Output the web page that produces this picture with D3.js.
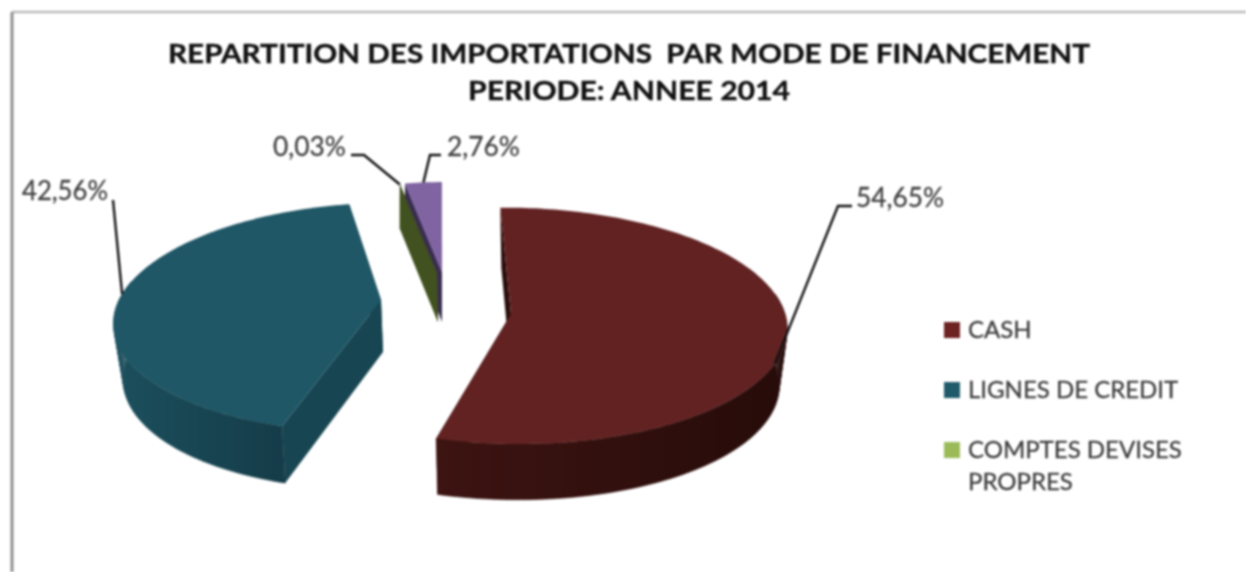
<!DOCTYPE html>
<html>
<head>
<meta charset="utf-8">
<script src="https://cdn.jsdelivr.net/npm/d3@7"></script>
<style>
  html, body { margin: 0; background: #fff; overflow: hidden; }
  svg { display: block; filter: blur(0.8px); }
  text { font-family: Lato, "Open Sans", sans-serif; white-space: pre; }
</style>
</head>
<body>
<div id="chart"></div>
<script>
//Data. The 4th slice has no entry in the legend
var categories = ["CASH", "LIGNES DE CREDIT", "COMPTES DEVISES PROPRES", ""];
var shares = [54.65, 42.56, 0.03, 2.76];
var labels = ["54,65%", "42,56%", "0,03%", "2,76%"];
var titleLines = ["REPARTITION DES IMPORTATIONS  PAR MODE DE FINANCEMENT", "PERIODE: ANNEE 2014"];
var legendLines = [["CASH"], ["LIGNES DE CREDIT"], ["COMPTES DEVISES", "PROPRES"]];

var width = 1246, height = 572;

//Colors
var topColor = d3.scaleOrdinal().domain(categories).range(["#622222", "#1f5766", "#41511f", "#8064a2"]);
var wallColor = d3.scaleOrdinal().domain(categories).range(["#2a0d0b", "#184552", "#41511f", "#3a2c52"]);
var rimLeft = d3.scaleOrdinal().domain(categories).range(["#3d1412", "#1c4f5d", "#000", "#000"]);
var rimRight = d3.scaleOrdinal().domain(categories).range(["#260c0a", "#153c48", "#000", "#000"]);
var legendColor = d3.scaleOrdinal().domain(categories).range(["#6e2323", "#1f5a6b", "#9bbb59", "#8064a2"]);

//Each exploded slice has its own top and bottom projection of the unit circle
var faces = [
  {top: {cx: 511, cy: 314, rx: 274, ry: 117, p: 0.10, sh: -7}, bot: {cx: 511, cy: 372, rx: 266, ry: 115, p: 0.10, sh: -6}},
  {top: {cx: 381, cy: 300, rx: 262, ry: 112, p: 0.15, sh: 14}, bot: {cx: 383, cy: 352, rx: 252, ry: 110, p: 0.20, sh: 11}},
  {top: {cx: 437, cy: 273, rx: 214, ry: 99, p: 0.10, sh: 0}, bot: {cx: 438, cy: 322, rx: 220, ry: 105, p: 0.10, sh: 0}},
  {top: {cx: 442, cy: 272, rx: 235, ry: 99, p: 0.10, sh: 4}, bot: {cx: 442, cy: 322, rx: 235, ry: 105, p: 0.10, sh: 4}}
];
//Leader lines: angle on the rim (null is the middle of the slice), then the elbows
var leaders = [
  {deg: 114, pts: [[838, 206], [852, 206]], lx: 856, ly: 207, tl: 88},
  {deg: 273, pts: [[113, 200]], lx: 22, ly: 200, tl: 86},
  {deg: null, pts: [[364, 155], [351, 155]], lx: 273, ly: 156, tl: 73},
  {deg: null, pts: [[430, 155], [441, 155]], lx: 447, ly: 156, tl: 73}
];
var legendY = [338, 398, 458];

function project(f, a) {
  var X = Math.sin(a), Y = Math.cos(a), w = 1 + f.p * Y;
  return [f.cx + f.rx * X / w + f.sh * Y / w, f.cy - f.ry * Y / w];
}
function arcPoints(f, a0, a1) {
  var n = Math.max(1, Math.ceil((a1 - a0) / 0.02)), out = [];
  for (var i = 0; i <= n; i++) out.push(project(f, a0 + (a1 - a0) * i / n));
  return out;
}

var rot = -1 * Math.PI / 180;
var pie = d3.pie().sort(null).startAngle(rot).endAngle(rot + 2 * Math.PI);
var slices = pie(shares);
var line = d3.line();

var svg = d3.select("#chart").append("svg").attr("width", width).attr("height", height);
var defs = svg.append("defs");

//Frame, the left side is darker than the top
svg.append("rect").attr("width", width).attr("height", height).attr("fill", "#fff");
svg.append("path").attr("d", "M1246,12H12").attr("fill", "none").attr("stroke", "#bbb").attr("stroke-width", 2.5);
svg.append("path").attr("d", "M12,12V580").attr("fill", "none").attr("stroke", "#8f8f8f").attr("stroke-width", 3);

//Title
svg.append("g").selectAll("text").data(titleLines).enter().append("text")
    .attr("x", 629).attr("y", function(d, i) { return 63 + i * 37; })
    .attr("text-anchor", "middle")
    .attr("textLength", function(d, i) { return i ? 322 : 922; })
    .attr("lengthAdjust", "spacingAndGlyphs")
    .attr("font-size", 27).attr("font-weight", 700).attr("fill", "#111")
    .attr("stroke", "#111").attr("stroke-width", 0.4)
    .text(function(d) { return d; });

//Slices, back ones first
var order = [3, 2, 1, 0];
var gp = svg.append("g");
order.forEach(function(i) {
  var s = slices[i], f = faces[i], c = categories[i];
  var a0 = s.startAngle, a1 = s.endAngle;

  //radial walls
  [a1, a0].forEach(function(a) {
    var wall = [project(f.top, a), [f.top.cx, f.top.cy], [f.bot.cx, f.bot.cy], project(f.bot, a)];
    gp.append("path").attr("d", line(wall) + "Z").attr("fill", wallColor(c));
  });

  //outer rim, front half only, one small quad per step so the silhouette stays closed
  var r0 = Math.max(a0, 80 * Math.PI / 180), r1 = Math.min(a1, 280 * Math.PI / 180);
  if (r1 > r0) {
    var tp = arcPoints(f.top, r0, r1), bp = arcPoints(f.bot, r0, r1);
    var xs = d3.extent(tp.concat(bp), function(d) { return d[0]; });
    var g = defs.append("linearGradient").attr("id", "rim" + i)
        .attr("gradientUnits", "userSpaceOnUse")
        .attr("x1", xs[0]).attr("x2", xs[1]).attr("y1", 0).attr("y2", 0);
    g.append("stop").attr("offset", "0%").attr("stop-color", rimLeft(c));
    g.append("stop").attr("offset", "100%").attr("stop-color", rimRight(c));
    var quads = "";
    for (var k = 0; k < tp.length - 1; k++) {
      quads += line([tp[k], tp[k + 1], bp[k + 1], bp[k]]) + "Z";
    }
    gp.append("path").attr("d", quads).attr("fill", "url(#rim" + i + ")")
        .attr("stroke", "url(#rim" + i + ")").attr("stroke-width", 0.5);
  }

  //top face
  var face = arcPoints(f.top, a0, a1);
  face.push([f.top.cx, f.top.cy]);
  gp.append("path").attr("d", line(face) + "Z").attr("fill", topColor(c));
});

//Leader lines and value labels
leaders.forEach(function(l, i) {
  var s = slices[i];
  var a = l.deg === null ? (s.startAngle + s.endAngle) / 2 : l.deg * Math.PI / 180;
  var pts = [project(faces[i].top, a)].concat(l.pts);
  svg.append("path").attr("d", line(pts)).attr("fill", "none")
      .attr("stroke", "#111").attr("stroke-width", 2.4);
  svg.append("text").attr("x", l.lx).attr("y", l.ly)
      .attr("textLength", l.tl).attr("lengthAdjust", "spacingAndGlyphs")
      .attr("font-size", 27).attr("fill", "#444").attr("stroke", "#444").attr("stroke-width", 0.3).text(labels[i]);
});

//Legend
var lg = svg.append("g");
legendLines.forEach(function(ls, i) {
  lg.append("rect").attr("x", 944).attr("y", legendY[i] - 16).attr("width", 16).attr("height", 16)
      .attr("fill", legendColor(categories[i]));
  ls.forEach(function(t, j) {
    lg.append("text").attr("x", 968).attr("y", legendY[i] + j * 32)
        .attr("font-size", 24).attr("fill", "#3c3c3c").attr("stroke", "#3c3c3c").attr("stroke-width", 0.3).text(t);
  });
});
</script>
</body>
</html>
